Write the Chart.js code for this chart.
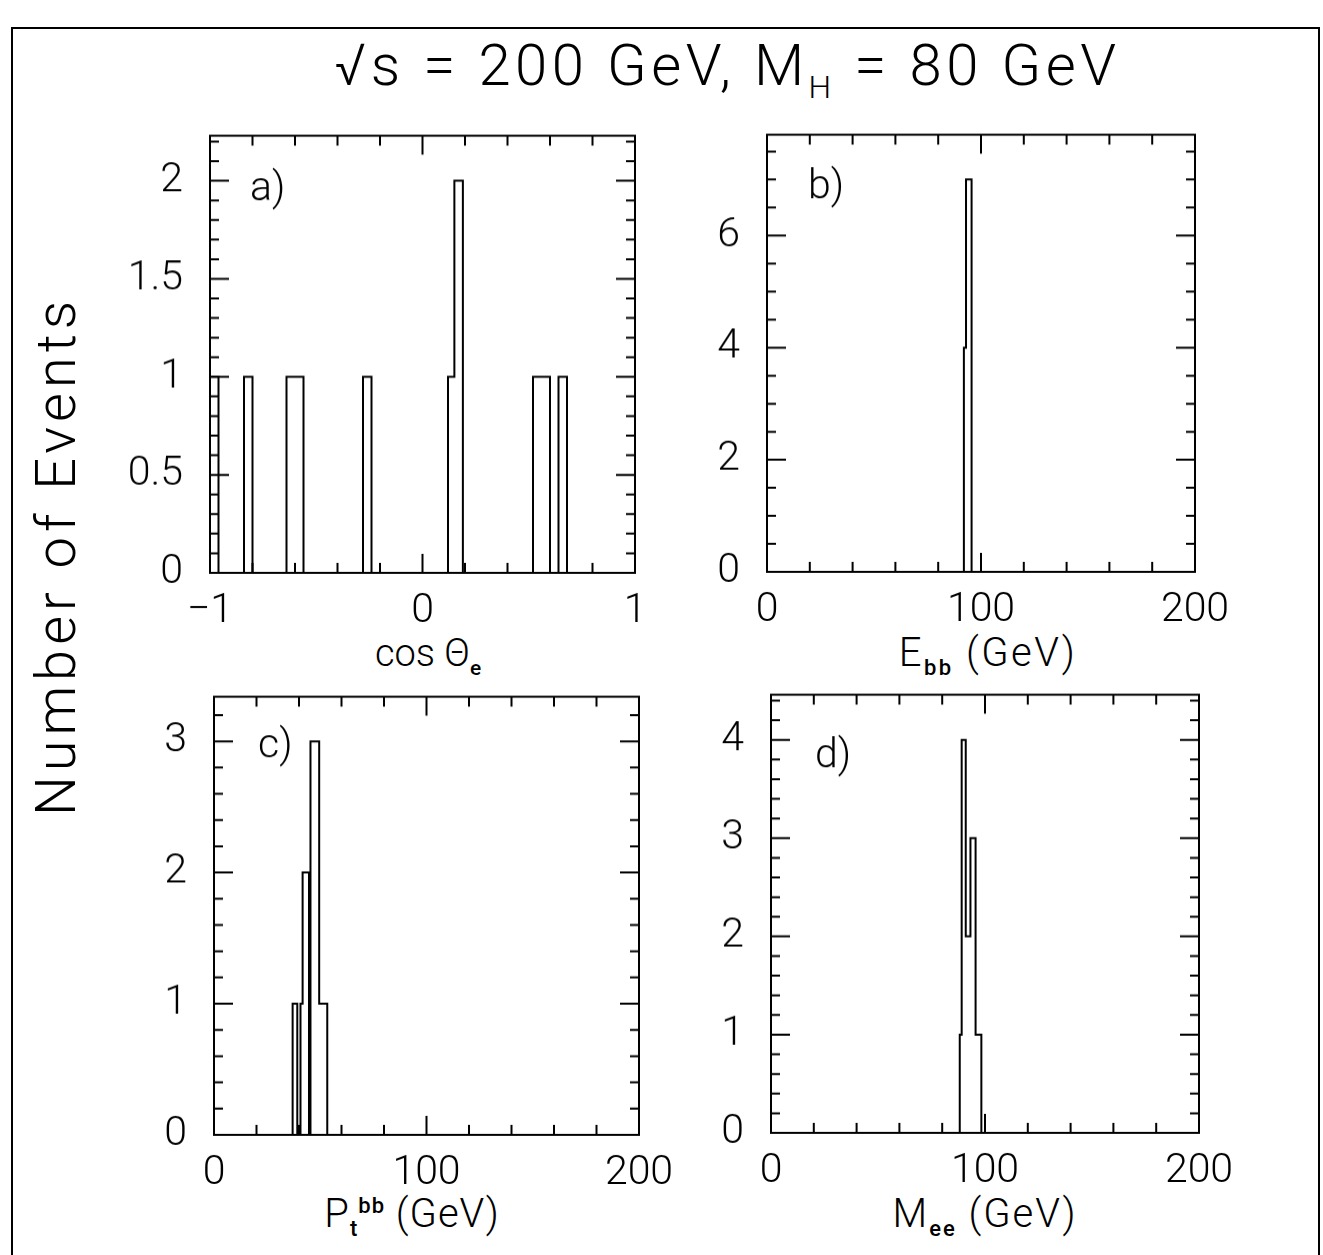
<!DOCTYPE html>
<html>
<head>
<meta charset="utf-8">
<script src="https://cdn.jsdelivr.net/npm/chart.js@4.4.1/dist/chart.umd.min.js"></script>
<style>
  body { margin: 0; background: #fff; width: 1323px; height: 1255px; position: relative; overflow: hidden;
         font-family: Roboto, 'DejaVu Sans', sans-serif; font-weight: 300; color: #000; }
  .border { position: absolute; left: 11px; top: 27px; width: 1305px; height: 1240px; border: 2px solid #000; }
  .panel { position: absolute; }
  .txt { position: absolute; white-space: nowrap; line-height: 1; text-align: center; }
  .txt sub, .txt sup { font-size: 55%; font-weight: 500; line-height: 0; }
</style>
</head>
<body>
<div class="border"></div>
<div class="txt" style="left:300px;width:855px;top:36px;font-size:58px;letter-spacing:4.5px">&radic;s = 200 GeV, M<sub style="font-weight:300">H</sub> = 80 GeV</div>
<div class="txt" style="left:-234px;width:580px;top:528px;font-size:56px;letter-spacing:5px;transform:rotate(-90deg)">Number of Events</div>
<div class="txt" style="left:328px;width:200px;top:634px;font-size:38px;letter-spacing:0px">cos &Theta;<sub>e</sub></div>
<div class="txt" style="left:888px;width:200px;top:633px;font-size:40px;letter-spacing:2.5px">E<sub>bb</sub> (GeV)</div>
<div class="txt" style="left:312px;width:200px;top:1194px;font-size:40px;letter-spacing:1px">P<sub>t</sub><sup>bb</sup> (GeV)</div>
<div class="txt" style="left:885px;width:200px;top:1194px;font-size:40px;letter-spacing:2px">M<sub>ee</sub> (GeV)</div>

<div class="panel" id="boxA"><canvas id="chartA"></canvas></div>
<div class="panel" id="boxB"><canvas id="chartB"></canvas></div>
<div class="panel" id="boxC"><canvas id="chartC"></canvas></div>
<div class="panel" id="boxD"><canvas id="chartD"></canvas></div>

<script>
// a) cos theta_e : bin edges and counts held between them
const cosEdges = [-1, -0.96, -0.84, -0.80, -0.64, -0.56, -0.28, -0.24, 0.12, 0.15, 0.19, 0.52, 0.60, 0.64, 0.68, 1];
const cosCounts = [1, 0, 1, 0, 1, 0, 1, 0, 1, 2, 0, 1, 0, 1, 0];
// b) E_bb
const ebbEdges = [0, 92, 93, 95.6, 200];
const ebbCounts = [0, 4, 7, 0];
// c) Pt_bb
const ptEdges = [0, 37, 39.2, 40.7, 41.7, 44.7, 45.4, 49.5, 53.3, 200];
const ptCounts = [0, 1, 0, 1, 2, 0, 3, 1, 0];
// d) M_ee
const meeEdges = [0, 88.2, 89.1, 91.0, 93.2, 95.6, 98.3, 200];
const meeCounts = [0, 1, 4, 2, 3, 1, 0];

// tick labels
const cosTicks = [-1, 0, 1];
const gevTicks = [0, 100, 200];
const yTicksA = [0, 0.5, 1, 1.5, 2];
const yTicksB = [0, 2, 4, 6];
const yTicksC = [0, 1, 2, 3];
const yTicksD = [0, 1, 2, 3, 4];

const FONT = { family: 'Roboto, "DejaVu Sans", sans-serif', size: 41, weight: '300' };

// frame with inward ticks on all four sides, plus the panel letter
const frameTicks = {
  id: 'frameTicks',
  afterDatasetsDraw(chart, args, o) {
    const { ctx, chartArea: a, scales: { x, y } } = chart;
    ctx.save();
    ctx.strokeStyle = '#000';
    ctx.lineWidth = 2;
    ctx.strokeRect(a.left, a.top, a.right - a.left, a.bottom - a.top);
    const isMajor = (v, m) => Math.abs(v / m - Math.round(v / m)) < 1e-6;
    ctx.beginPath();
    const nx = Math.round((x.max - x.min) / o.xMinor);
    for (let i = 1; i < nx; i++) {
      const v = x.min + i * o.xMinor;
      const px = x.getPixelForValue(v);
      const len = isMajor(v, o.xMajor) ? 19 : 10;
      ctx.moveTo(px, a.top); ctx.lineTo(px, a.top + len);
      ctx.moveTo(px, a.bottom); ctx.lineTo(px, a.bottom - len);
    }
    const ny = Math.floor(y.max / o.yMinor + 1e-6);
    for (let i = 1; i <= ny; i++) {
      const v = i * o.yMinor;
      const py = y.getPixelForValue(v);
      const len = isMajor(v, o.yMajor) ? 19 : 9;
      ctx.moveTo(a.left, py); ctx.lineTo(a.left + len, py);
      ctx.moveTo(a.right, py); ctx.lineTo(a.right - len, py);
    }
    ctx.stroke();
    ctx.fillStyle = '#000';
    ctx.font = '300 41px ' + FONT.family;
    ctx.fillText(o.letter, a.left + o.lx, a.top + o.ly);
    ctx.restore();
  }
};

function makeConfig(edges, counts, xRange, yMax, xTicks, yTicks, marks) {
  const pts = counts.map((c, i) => ({ x: edges[i], y: c }));
  pts.push({ x: edges[edges.length - 1], y: 0 });
  const fmt = v => (v < 0 ? '\u2212' + Math.abs(v) : String(v));
  return {
    type: 'line',
    data: {
      datasets: [{
        data: pts,
        stepped: 'before',
        borderColor: '#000',
        borderWidth: 2,
        pointRadius: 0,
        fill: false,
        clip: false
      }]
    },
    options: {
      responsive: false,
      animation: false,
      events: [],
      layout: { autoPadding: false, padding: { left: 0, top: 40, right: 70, bottom: 0 } },
      scales: {
        x: {
          type: 'linear', min: xRange[0], max: xRange[1],
          grid: { display: false, drawTicks: false },
          border: { display: false },
          afterBuildTicks: s => { s.ticks = xTicks.map(v => ({ value: v })); },
          afterFit: s => { s.height = 80; },
          ticks: { color: '#000', font: FONT, padding: 14, maxRotation: 0, autoSkip: false, callback: fmt }
        },
        y: {
          type: 'linear', min: 0, max: yMax,
          grid: { display: false, drawTicks: false },
          border: { display: false },
          afterBuildTicks: s => { s.ticks = yTicks.map(v => ({ value: v })); },
          afterFit: s => { s.width = 150; },
          ticks: { color: '#000', font: FONT, padding: 27, autoSkip: false, callback: fmt }
        }
      },
      plugins: {
        legend: { display: false },
        tooltip: { enabled: false },
        frameTicks: marks
      }
    },
    plugins: [frameTicks]
  };
}

// build once, measure the plot area, then rebuild so the frame lands where the reference has it
function histChart(boxId, canvasId, frame, ...rest) {
  const box = document.getElementById(boxId);
  const cv = document.getElementById(canvasId);
  const fw = frame.r - frame.l, fh = frame.b - frame.t;
  let W = fw + 220, H = fh + 140;
  cv.width = W; cv.height = H;
  let chart = new Chart(cv, makeConfig(...rest));
  let ca = chart.chartArea;
  W += fw - (ca.right - ca.left);
  H += fh - (ca.bottom - ca.top);
  chart.destroy();
  cv.width = W; cv.height = H;
  cv.style.width = W + 'px'; cv.style.height = H + 'px';
  chart = new Chart(cv, makeConfig(...rest));
  ca = chart.chartArea;
  box.style.left = (frame.l - ca.left) + 'px';
  box.style.top = (frame.t - ca.top) + 'px';
  return chart;
}

histChart('boxA', 'chartA', { l: 210, t: 136, r: 635, b: 573 }, cosEdges, cosCounts, [-1, 1], 2.23,
  cosTicks, yTicksA, { xMinor: 0.2, xMajor: 1, yMinor: 0.1, yMajor: 0.5, letter: 'a)', lx: 40, ly: 64 });
histChart('boxB', 'chartB', { l: 767, t: 135, r: 1195, b: 572 }, ebbEdges, ebbCounts, [0, 200], 7.8,
  gevTicks, yTicksB, { xMinor: 20, xMajor: 100, yMinor: 0.5, yMajor: 2, letter: 'b)', lx: 41, ly: 63 });
histChart('boxC', 'chartC', { l: 214, t: 697, r: 639, b: 1135 }, ptEdges, ptCounts, [0, 200], 3.34,
  gevTicks, yTicksC, { xMinor: 20, xMajor: 100, yMinor: 0.2, yMajor: 1, letter: 'c)', lx: 44, ly: 60 });
histChart('boxD', 'chartD', { l: 771, t: 695, r: 1199, b: 1133 }, meeEdges, meeCounts, [0, 200], 4.46,
  gevTicks, yTicksD, { xMinor: 20, xMajor: 100, yMinor: 0.2, yMajor: 1, letter: 'd)', lx: 44, ly: 72 });
</script>
</body>
</html>
